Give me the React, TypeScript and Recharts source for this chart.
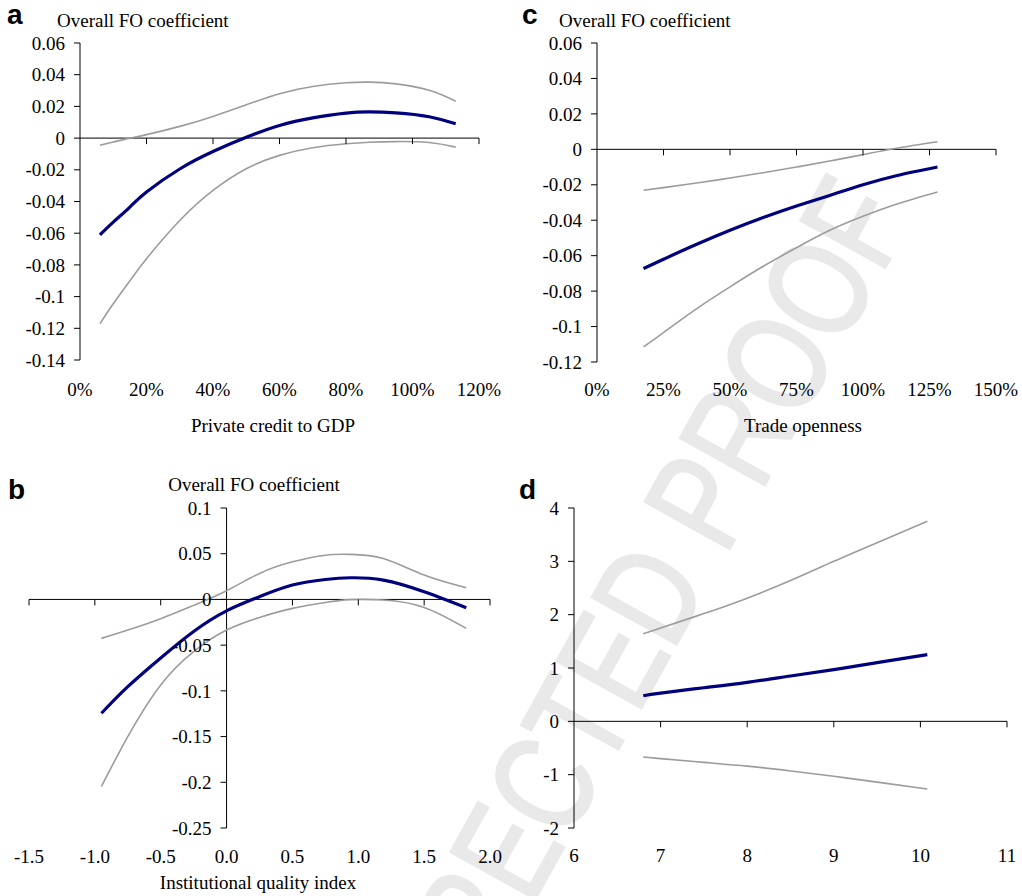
import React from "react";
import { LineChart, Line, XAxis, YAxis, ReferenceLine } from "recharts";

const W = 1022;
const H = 896;

// a: private credit to GDP (%)
const creditX = [6, 10, 15, 20, 30, 40, 50, 60, 70, 80, 87, 95, 105, 113];
const creditFO = [-0.061, -0.053, -0.0435, -0.034, -0.0195, -0.0085, 0.0005, 0.008, 0.0128, 0.0158, 0.0165, 0.0159, 0.0135, 0.009];
const creditHi = [-0.0045, -0.0025, 0.0, 0.0022, 0.0074, 0.0137, 0.021, 0.028, 0.0326, 0.0349, 0.0353, 0.0342, 0.0302, 0.0233];
const creditLo = [-0.1171, -0.1045, -0.09, -0.0761, -0.052, -0.033, -0.0193, -0.0109, -0.0061, -0.0036, -0.0026, -0.0022, -0.0028, -0.0057];
const creditXTicks = [0, 20, 40, 60, 80, 100, 120];
const creditXLabels = ["0%", "20%", "40%", "60%", "80%", "100%", "120%"];
const creditYTicks = [-0.14, -0.12, -0.1, -0.08, -0.06, -0.04, -0.02, 0, 0.02, 0.04, 0.06];
const creditYLabels = ["-0.14", "-0.12", "-0.1", "-0.08", "-0.06", "-0.04", "-0.02", "0", "0.02", "0.04", "0.06"];

// c: trade openness (%)
const tradeX = [17.5, 25, 37.5, 50, 62.5, 75, 87.5, 100, 112.5, 128];
const tradeFO = [-0.0673, -0.062, -0.0536, -0.0457, -0.0385, -0.032, -0.026, -0.02, -0.0149, -0.01];
const tradeHi = [-0.0231, -0.0216, -0.019, -0.0162, -0.0132, -0.01, -0.0066, -0.003, 0.0006, 0.0043];
const tradeLo = [-0.1115, -0.1034, -0.0899, -0.0776, -0.066, -0.0555, -0.0457, -0.0378, -0.031, -0.0241];
const tradeXTicks = [0, 25, 50, 75, 100, 125, 150];
const tradeXLabels = ["0%", "25%", "50%", "75%", "100%", "125%", "150%"];
const tradeYTicks = [-0.12, -0.1, -0.08, -0.06, -0.04, -0.02, 0, 0.02, 0.04, 0.06];
const tradeYLabels = ["-0.12", "-0.1", "-0.08", "-0.06", "-0.04", "-0.02", "0", "0.02", "0.04", "0.06"];

// b: institutional quality index
const instX = [-0.95, -0.75, -0.5, -0.25, 0, 0.25, 0.5, 0.75, 0.94, 1.19, 1.5, 1.82];
const instFO = [-0.1245, -0.0954, -0.064, -0.035, -0.0125, 0.003, 0.0157, 0.0218, 0.0237, 0.0211, 0.0084, -0.0091];
const instHi = [-0.0426, -0.0335, -0.021, -0.0065, 0.0095, 0.0284, 0.0411, 0.0484, 0.0493, 0.0448, 0.0266, 0.0127];
const instLo = [-0.2046, -0.15, -0.0935, -0.057, -0.0335, -0.0197, -0.0098, -0.0033, -0.0002, -0.0007, -0.0087, -0.0317];
const instXTicks = [-1.5, -1, -0.5, 0, 0.5, 1, 1.5, 2];
const instXLabels = ["-1.5", "-1.0", "-0.5", "0.0", "0.5", "1.0", "1.5", "2.0"];
const instYTicks = [-0.25, -0.2, -0.15, -0.1, -0.05, 0, 0.05, 0.1];
const instYLabels = ["-0.25", "-0.2", "-0.15", "-0.1", "-0.05", "0", "0.05", "0.1"];

// d
const dX = [6.8, 7, 7.5, 8, 8.5, 9, 9.5, 10.08];
const dFO = [0.48, 0.53, 0.63, 0.73, 0.85, 0.97, 1.1, 1.25];
const dHi = [1.64, 1.75, 2.02, 2.31, 2.64, 3.0, 3.35, 3.75];
const dLo = [-0.67, -0.7, -0.77, -0.84, -0.93, -1.03, -1.14, -1.27];
const dXTicks = [6, 7, 8, 9, 10, 11];
const dXLabels = ["6", "7", "8", "9", "10", "11"];
const dYTicks = [-2, -1, 0, 1, 2, 3, 4];
const dYLabels = ["-2", "-1", "0", "1", "2", "3", "4"];

const serif = '"Liberation Serif", "Times New Roman", serif';
const sans = '"Liberation Sans", Arial, sans-serif';

type Row = { x: number; fo: number; hi: number; lo: number };

const rows = (xs: number[], fo: number[], hi: number[], lo: number[]): Row[] =>
  xs.map((x, i) => ({ x, fo: fo[i], hi: hi[i], lo: lo[i] }));

interface PanelProps {
  data: Row[];
  box: { left: number; top: number; right: number; bottom: number };
  xDomain: [number, number];
  xTicks: number[];
  xLabels: string[];
  yDomain: [number, number];
  yTicks: number[];
  yLabels: string[];
  yAxisAt: number;
  xLabelY: number;
}

function Panel({ data, box, xDomain, xTicks, xLabels, yDomain, yTicks, yLabels, yAxisAt, xLabelY }: PanelProps) {
  const plotW = box.right - box.left;
  const plotH = box.bottom - box.top;
  // pixel row/col of the crossing axes, from the panel's own domain
  const zeroY = box.top + (plotH * (yDomain[1] - 0)) / (yDomain[1] - yDomain[0]);
  const axisX = box.left + (plotW * (yAxisAt - xDomain[0])) / (xDomain[1] - xDomain[0]);

  const xTick = (props: any) => {
    const { x, payload } = props;
    const label = xLabels[xTicks.indexOf(payload.value)];
    return (
      <g>
        {payload.value !== yAxisAt && (
          <line x1={x} x2={x} y1={zeroY} y2={zeroY + 6} stroke="#000" strokeWidth={1} />
        )}
        <text x={x} y={xLabelY} textAnchor="middle" style={{ fontFamily: serif }} fontSize={19} fill="#000">
          {label}
        </text>
      </g>
    );
  };

  const yTick = (props: any) => {
    const { y, payload } = props;
    const label = yLabels[yTicks.indexOf(payload.value)];
    return (
      <g>
        <line x1={axisX - 6} x2={axisX} y1={y} y2={y} stroke="#000" strokeWidth={1} />
        <text x={axisX - 15} y={y} dy="0.35em" textAnchor="end" style={{ fontFamily: serif }} fontSize={19} fill="#000">
          {label}
        </text>
      </g>
    );
  };

  return (
    <div style={{ position: "absolute", left: 0, top: 0 }}>
      <LineChart
        width={W}
        height={H}
        data={data}
        margin={{ top: box.top, left: box.left - 60, right: W - box.right, bottom: H - box.bottom - 30 }}
      >
        <XAxis
          type="number"
          dataKey="x"
          domain={xDomain}
          ticks={xTicks}
          interval={0}
          allowDataOverflow
          axisLine={false}
          tickLine={false}
          tick={xTick}
          height={30}
        />
        <YAxis
          type="number"
          domain={yDomain}
          ticks={yTicks}
          interval={0}
          allowDataOverflow
          axisLine={false}
          tickLine={false}
          tick={yTick}
          width={60}
        />
        <ReferenceLine y={0} stroke="#000" strokeWidth={1} />
        <ReferenceLine x={yAxisAt} stroke="#000" strokeWidth={1} />
        <Line type="natural" dataKey="hi" stroke="#9c9c9c" strokeWidth={1.6} dot={false} isAnimationActive={false} />
        <Line type="natural" dataKey="lo" stroke="#9c9c9c" strokeWidth={1.6} dot={false} isAnimationActive={false} />
        <Line type="natural" dataKey="fo" stroke="#00007f" strokeWidth={3.2} dot={false} isAnimationActive={false} />
      </LineChart>
    </div>
  );
}

export default function App() {
  const txt = { style: { fontFamily: serif }, fontSize: 19, fill: "#000" };
  const letter = { style: { fontFamily: sans }, fontSize: 28, fontWeight: 700, fill: "#000" };
  return (
    <div style={{ position: "absolute", left: 0, top: 0, width: W, height: H, background: "#fff" }}>
      <svg width={W} height={H} style={{ position: "absolute", left: 0, top: 0 }}>
        <g transform="translate(600 678) rotate(-61) scale(0.78 1)">
          <text
            x={0}
            y={0}
            dy="0.36em"
            textAnchor="middle"
            style={{ fontFamily: sans }}
            fontSize={140}
            fill="#e9e9e9"
            stroke="#e9e9e9"
            strokeWidth={3}
          >
            CORRECTED PROOF
          </text>
        </g>
        <text x={7} y={24} {...letter}>a</text>
        <text x={522} y={24} {...letter}>c</text>
        <text x={8} y={499} {...letter}>b</text>
        <text x={519} y={499} {...letter}>d</text>
        <text x={57} y={26.5} {...txt}>Overall FO coefficient</text>
        <text x={559} y={26.5} {...txt}>Overall FO coefficient</text>
        <text x={254} y={490.5} textAnchor="middle" {...txt}>Overall FO coefficient</text>
        <text x={273} y={431.5} textAnchor="middle" {...txt}>Private credit to GDP</text>
        <text x={803} y={431.5} textAnchor="middle" {...txt}>Trade openness</text>
        <text x={258} y={889} textAnchor="middle" {...txt}>Institutional quality index</text>
      </svg>
      <Panel
        data={rows(creditX, creditFO, creditHi, creditLo)}
        box={{ left: 80, top: 43, right: 479, bottom: 360 }}
        xDomain={[0, 120]}
        xTicks={creditXTicks}
        xLabels={creditXLabels}
        yDomain={[-0.14, 0.06]}
        yTicks={creditYTicks}
        yLabels={creditYLabels}
        yAxisAt={0}
        xLabelY={396}
      />
      <Panel
        data={rows(tradeX, tradeFO, tradeHi, tradeLo)}
        box={{ left: 597, top: 43, right: 996, bottom: 362 }}
        xDomain={[0, 150]}
        xTicks={tradeXTicks}
        xLabels={tradeXLabels}
        yDomain={[-0.12, 0.06]}
        yTicks={tradeYTicks}
        yLabels={tradeYLabels}
        yAxisAt={0}
        xLabelY={396}
      />
      <Panel
        data={rows(instX, instFO, instHi, instLo)}
        box={{ left: 29, top: 508, right: 490, bottom: 828 }}
        xDomain={[-1.5, 2]}
        xTicks={instXTicks}
        xLabels={instXLabels}
        yDomain={[-0.25, 0.1]}
        yTicks={instYTicks}
        yLabels={instYLabels}
        yAxisAt={0}
        xLabelY={863}
      />
      <Panel
        data={rows(dX, dFO, dHi, dLo)}
        box={{ left: 574, top: 508, right: 1007, bottom: 828 }}
        xDomain={[6, 11]}
        xTicks={dXTicks}
        xLabels={dXLabels}
        yDomain={[-2, 4]}
        yTicks={dYTicks}
        yLabels={dYLabels}
        yAxisAt={6}
        xLabelY={862}
      />
    </div>
  );
}
